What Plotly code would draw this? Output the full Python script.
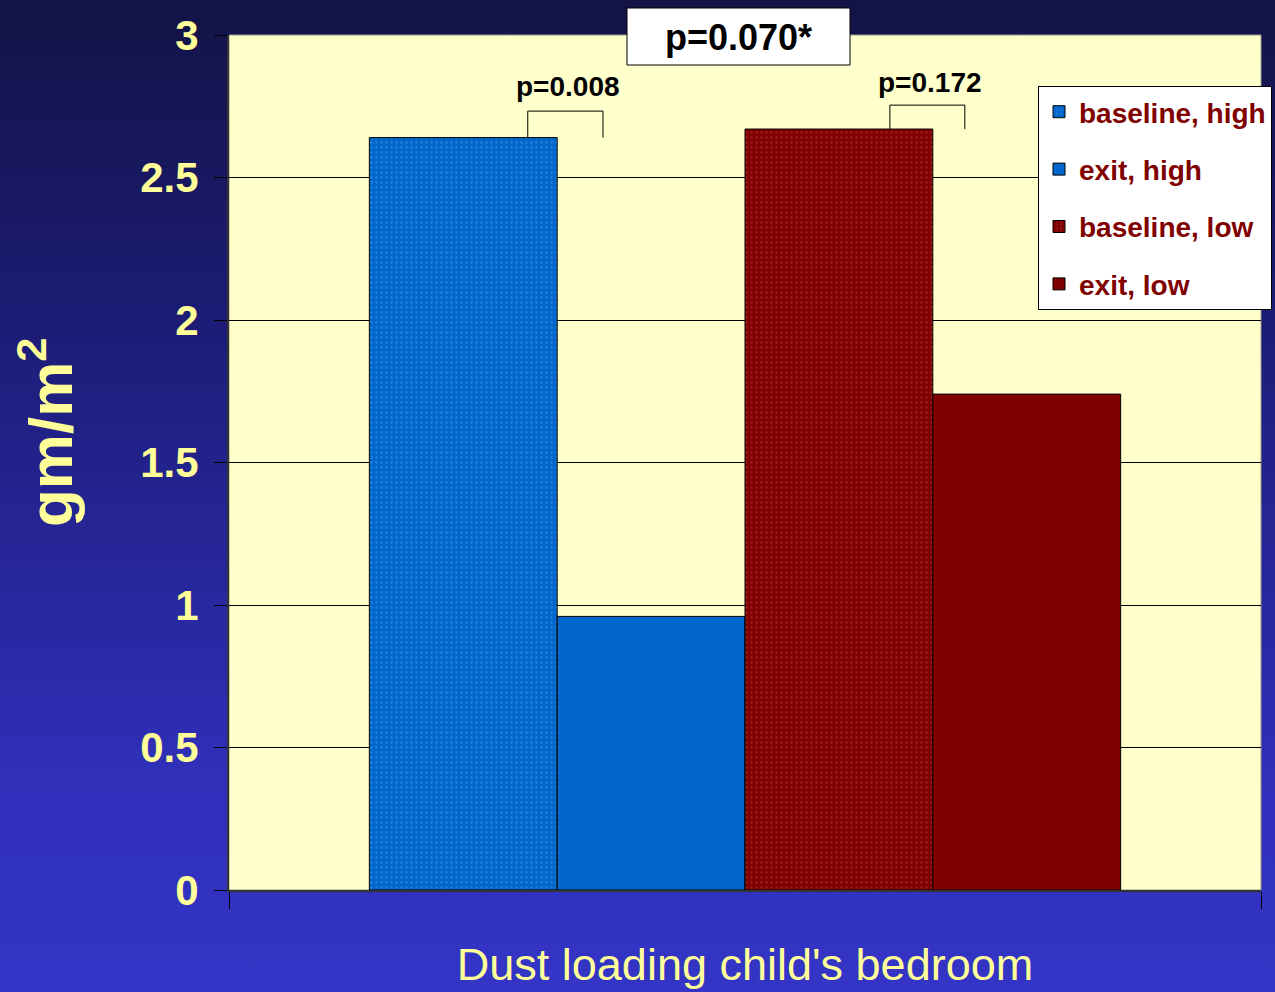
import base64
import plotly.graph_objects as go

# ---- data ----
category = ["Dust loading child's bedroom"]
series_names = ["baseline, high", "exit, high", "baseline, low", "exit, low"]
series_values = [2.64, 0.96, 2.67, 1.74]
pair_pvalues = ["p=0.008", "p=0.172"]
overall_pvalue = "p=0.070*"
y_title = "gm/m<sup>2</sup>"
y_ticks = [0, 0.5, 1, 1.5, 2, 2.5, 3]
y_tick_labels = ["0", "0.5", "1", "1.5", "2", "2.5", "3"]

# ---- styles ----
colors = ["#0066CC", "#0066CC", "#800000", "#800000"]
pattern_fg = ["#3d8fe0", None, "#a83232", None]
W, H = 1275, 992
ML, MR, MT, MB = 229, 14, 35, 102
SANS = "Liberation Sans, Arial, sans-serif"
YELLOW = "#FFFF99"
pw, ph = W - ML - MR, H - MT - MB


def px_x(p):
    return (p - ML) / pw


def px_y(p):
    return (H - MB - p) / ph


fig = go.Figure()
for name, val, col, fg in zip(series_names, series_values, colors, pattern_fg):
    marker = dict(color=col, line=dict(color="black", width=1))
    if fg:
        marker["pattern"] = dict(shape=".", size=5, solidity=0.25, fgcolor=fg, bgcolor=col)
    fig.add_trace(go.Bar(x=[0], y=[val], name=name, marker=marker,
                         legendgroup=name, hoverinfo="skip"))

# background gradient as an inline SVG image
svg = (
    '<svg xmlns="http://www.w3.org/2000/svg" width="100" height="100" preserveAspectRatio="none">'
    '<defs><linearGradient id="g" x1="0" y1="0" x2="0" y2="1">'
    '<stop offset="0" stop-color="#131346"/>'
    '<stop offset="0.35" stop-color="#1d1d7a"/>'
    '<stop offset="0.8" stop-color="#3030bc"/>'
    '<stop offset="1" stop-color="#3434c6"/>'
    '</linearGradient></defs><rect width="100" height="100" fill="url(#g)"/></svg>'
)
src = "data:image/svg+xml;base64," + base64.b64encode(svg.encode()).decode()
fig.add_layout_image(dict(source=src, xref="paper", yref="paper",
                          x=-ML / pw, y=1 + MT / ph, sizex=W / pw, sizey=H / ph,
                          xanchor="left", yanchor="top", sizing="stretch", layer="below"))

# plot area fill (drawn above the gradient image)
fig.add_shape(type="rect", xref="paper", yref="paper", x0=0, x1=1, y0=0, y1=1,
              fillcolor="#FFFFCC", line=dict(color="#9a9a8a", width=1), layer="below")

# comparison brackets (bar offsets within the single category)
bar_w = 0.182
offsets = [-1.5 * bar_w, -0.5 * bar_w, 0.5 * bar_w, 1.5 * bar_w]
bracket_pairs = [(0, 1), (2, 3)]
bracket_dx = [(0.0625, -0.0466), (0.0494, -0.060)]
bracket_top = [0.093, 0.084]
label_dy = [0.178, 0.165]
for k, (i, j) in enumerate(bracket_pairs):
    xl = offsets[i] + bracket_dx[k][0]
    xr = offsets[j] + bracket_dx[k][1]
    base = series_values[i]
    top = base + bracket_top[k]
    fig.add_shape(type="path", xref="x", yref="y",
                  path=f"M{xl},{base} L{xl},{top} L{xr},{top} L{xr},{base}",
                  line=dict(color="black", width=1))
    fig.add_annotation(x=(xl + xr) / 2 + 0.003, y=base + label_dy[k], xref="x", yref="y",
                       text=f"<b>{pair_pvalues[k]}</b>", showarrow=False,
                       xanchor="center", yanchor="middle",
                       font=dict(family=SANS, size=28, color="black"))

# overall p-value box
fig.add_shape(type="rect", xref="paper", yref="paper",
              x0=px_x(627), x1=px_x(850), y0=px_y(65), y1=px_y(8),
              fillcolor="white", line=dict(color="black", width=1), layer="above")
fig.add_annotation(x=px_x(738.5), y=px_y(37), xref="paper", yref="paper",
                   text=f"<b>{overall_pvalue}</b>", showarrow=False,
                   xanchor="center", yanchor="middle",
                   font=dict(family=SANS, size=36, color="black"))

# y axis title
fig.add_annotation(x=px_x(46), y=px_y(432), xref="paper", yref="paper",
                   text=f"<b>{y_title}</b>", showarrow=False, textangle=-90,
                   xanchor="center", yanchor="middle",
                   font=dict(family=SANS, size=62, color=YELLOW))

fig.update_layout(
    width=W, height=H,
    margin=dict(l=ML, r=MR, t=MT, b=MB, autoexpand=False),
    paper_bgcolor="#3434c6",
    plot_bgcolor="rgba(0,0,0,0)",
    barmode="group", bargap=0.272, bargroupgap=0,
    showlegend=True,
    legend=dict(x=px_x(1038), y=px_y(86), xanchor="left", yanchor="top",
                bgcolor="white", bordercolor="black", borderwidth=1,
                font=dict(family=SANS, size=28, color="#800000", weight="bold"),
                tracegroupgap=18, traceorder="grouped"),
    xaxis=dict(range=[-0.5, 0.5], showticklabels=False, showgrid=False, zeroline=False,
               ticks="outside", ticklen=17, tickcolor="black", tickvals=[-0.5, 0.5],
               showline=True, linecolor="#333333", linewidth=2,
               title=dict(text=category[0], standoff=40,
                          font=dict(family=SANS, size=45, color=YELLOW))),
    yaxis=dict(range=[0, 3], tickvals=y_ticks, ticktext=y_tick_labels,
               ticks="outside", ticklen=13, tickcolor="black",
               showgrid=True, gridcolor="black", gridwidth=1, zeroline=False,
               showline=True, linecolor="#333333", linewidth=2,
               ticklabelstandoff=7,
               tickfont=dict(family=SANS, size=42, color=YELLOW, weight="bold")),
)

fig.write_html("out.html")
